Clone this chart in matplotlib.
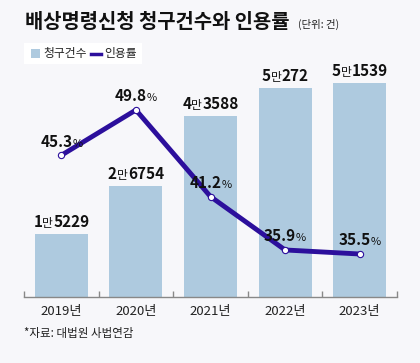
import matplotlib
matplotlib.use("Agg")
import matplotlib.pyplot as plt
from matplotlib.patches import Rectangle
from matplotlib.lines import Line2D
from matplotlib.offsetbox import TextArea, HPacker, AnnotationBbox

plt.rcParams['font.family'] = ['Noto Sans CJK KR', 'DejaVu Sans']

years = ["2019년", "2020년", "2021년", "2022년", "2023년"]
claims = [15229, 26754, 43588, 50272, 51539]
rates = [45.3, 49.8, 41.2, 35.9, 35.5]

BG = "#f7f7fa"
BAR = "#aecadf"
LINE = "#2c0f9c"
W, H = 420, 363


def px(x, y):
    """pixel position (from top-left) -> figure fraction"""
    return x / W, 1 - y / H


def label_box(parts):
    items = [TextArea(t, textprops=dict(fontsize=s, fontweight=w, color="#111111"))
             for t, s, w in parts]
    return HPacker(children=items, align="baseline", pad=0, sep=0)


fig = plt.figure(figsize=(W / 100, H / 100), dpi=100, facecolor=BG)

# axes from x=24..397 px, y=70..297 px
left, bottom = px(24, 297)
right, top = px(397, 70)
ax = fig.add_axes([left, bottom, right - left, top - bottom])
ax.set_facecolor("none")
ax2 = ax.twinx()

xs = list(range(len(years)))
ax.bar(xs, claims, width=0.71, color=BAR, zorder=1)
ax.set_xlim(-0.5, len(years) - 0.5)
ax.set_ylim(0, 54700)

for x, v in zip(xs, claims):
    box = label_box([(str(v // 10000), 11, "bold"), ("만", 8.5, "normal"),
                     (str(v % 10000), 11, "bold")])
    ab = AnnotationBbox(box, (x, v), xybox=(0, 3), xycoords="data",
                        boxcoords="offset points", box_alignment=(0.5, 0),
                        frameon=False, pad=0)
    ax.add_artist(ab)

ax2.plot(xs, rates, color=LINE, lw=3.5, zorder=3, solid_capstyle="round")
ax2.plot(xs, rates, "o", ms=4.5, mfc="white", mec=LINE, mew=0.8, zorder=4)
ax2.set_ylim(31.23, 53.77)

for x, r in zip(xs, rates):
    box = label_box([(f"{r:.1f}", 11, "bold"), ("%", 8, "normal")])
    ab = AnnotationBbox(box, (x, r), xybox=(0, 4), xycoords="data",
                        boxcoords="offset points", box_alignment=(0.5, 0),
                        frameon=False, pad=0)
    ax2.add_artist(ab)

for a in (ax, ax2):
    for s in ("top", "right", "left"):
        a.spines[s].set_visible(False)
    a.set_yticks([])
ax2.spines["bottom"].set_visible(False)
ax.spines["bottom"].set_color("#888888")
ax.spines["bottom"].set_linewidth(1)

ax.set_xticks([i - 0.5 for i in range(len(years) + 1)])
ax.set_xticklabels([])
ax.tick_params(axis="x", which="major", direction="in", length=4,
               color="#888888", width=1)
ax.set_xticks(xs, minor=True)
ax.set_xticklabels(years, minor=True, fontsize=9.5, color="#222222")
ax.tick_params(axis="x", which="minor", length=0, pad=6)

# title
fig.text(*px(25, 22), "배상명령신청 청구건수와 인용률", fontsize=14.3,
         fontweight="bold", va="center", ha="left", color="#111111")
fig.text(*px(298, 24), "(단위: 건)", fontsize=7.5, va="center", ha="left",
         color="#222222")

# legend
lx, ly = px(24, 64)
fig.patches.append(Rectangle((lx, ly), 118 / W, 21 / H, transform=fig.transFigure,
                             facecolor="white", edgecolor="none"))
sx, sy = px(31, 58)
fig.patches.append(Rectangle((sx, sy), 9 / W, 9 / H, transform=fig.transFigure,
                             facecolor=BAR, edgecolor="none"))
fig.text(*px(43, 53.5), "청구건수", fontsize=8.5, va="center", ha="left",
         color="#222222")
x0, yl = px(91, 53.5)
x1, _ = px(101, 53.5)
fig.lines.append(Line2D([x0, x1], [yl, yl], transform=fig.transFigure,
                        color=LINE, lw=2.5))
fig.text(*px(104, 53.5), "인용률", fontsize=8.5, va="center", ha="left",
         color="#222222")

# source
fig.text(*px(24, 334), "*자료: 대법원 사법연감", fontsize=8.3, va="center",
         ha="left", color="#222222")

fig.savefig("out.png", dpi=100, facecolor=BG)
